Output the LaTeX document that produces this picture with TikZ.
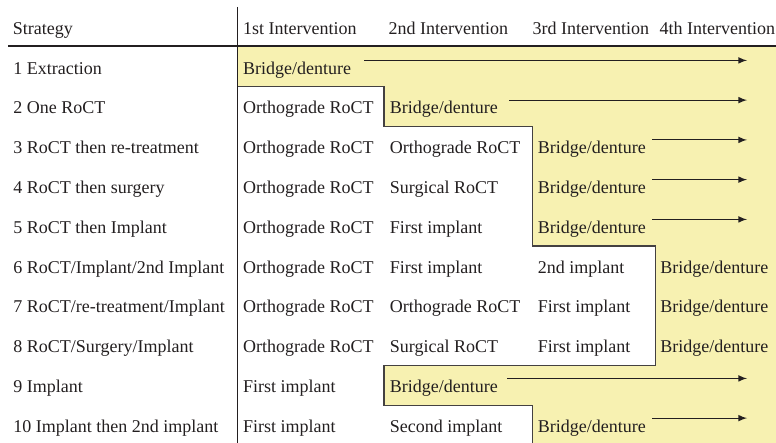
\documentclass[tikz,border=0pt]{standalone}
\usepackage{fontspec}
\setmainfont{Liberation Serif}
\usepackage{tikz}
\usetikzlibrary{arrows,positioning}
\pgfdeclarelayer{background layer}
\pgfsetlayers{background layer,main}
\definecolor{bkg}{RGB}{247,241,177}
\definecolor{ink}{RGB}{35,31,32}

\begin{document}
\begin{tikzpicture}[x=0.5pt,y=-0.5pt]
\tikzstyle{cell}=[anchor=base west,inner sep=0pt,text=ink,font=\fontsize{9}{11}\selectfont]
\tikzstyle{arrow}=[ink,line width=0.5pt,->,>=latex]
\tikzstyle{stairs}=[draw=ink!85,line width=0.7pt]
\tikzstyle{rule}=[ink,line width=1pt]
\useasboundingbox (0,0) rectangle (776,443);
% header
\node [cell] at (12.5,35) (h0) {Strategy};
\node [cell] at (242.7,35) (h1) {1st Intervention};
\node [cell] at (388.3,35) (h2) {2nd Intervention};
\node [cell] at (532.3,35) (h3) {3rd Intervention};
\node [cell] at (659.3,35) (h4) {4th Intervention};
\draw [rule] (8,46.5) -- (776,46.5);
\draw [rule,line width=0.8pt] (237.5,7) -- (237.5,443);
% strategies
\node [cell] at (13,74.3) (s1) {1 Extraction};
\node [cell] at (13,114) (s2) {2 One RoCT};
\node [cell] at (13,153.8) (s3) {3 RoCT then re-treatment};
\node [cell] at (13,193.5) (s4) {4 RoCT then surgery};
\node [cell] at (13,233.3) (s5) {5 RoCT then Implant};
\node [cell] at (13,273) (s6) {6 RoCT/Implant/2nd Implant};
\node [cell] at (13,312.8) (s7) {7 RoCT/re-treatment/Implant};
\node [cell] at (13,352.5) (s8) {8 RoCT/Surgery/Implant};
\node [cell] at (13,392.3) (s9) {9 Implant};
\node [cell] at (13,432) (s10) {10 Implant then 2nd implant};
% 1st intervention
\node [cell] at (242.7,74.3) (a1) {Bridge/denture};
\node [cell] at (242.7,114) (a2) {Orthograde RoCT};
\node [cell] at (242.7,153.8) (a3) {Orthograde RoCT};
\node [cell] at (242.7,193.5) (a4) {Orthograde RoCT};
\node [cell] at (242.7,233.3) (a5) {Orthograde RoCT};
\node [cell] at (242.7,273) (a6) {Orthograde RoCT};
\node [cell] at (242.7,312.8) (a7) {Orthograde RoCT};
\node [cell] at (242.7,352.5) (a8) {Orthograde RoCT};
\node [cell] at (242.7,392.3) (a9) {First implant};
\node [cell] at (242.7,432) (a10) {First implant};
% 2nd intervention
\node [cell] at (389.5,114) (b2) {Bridge/denture};
\node [cell] at (389.5,153.8) (b3) {Orthograde RoCT};
\node [cell] at (389.5,193.5) (b4) {Surgical RoCT};
\node [cell] at (389.5,233.3) (b5) {First implant};
\node [cell] at (389.5,273) (b6) {First implant};
\node [cell] at (389.5,312.8) (b7) {Orthograde RoCT};
\node [cell] at (389.5,352.5) (b8) {Surgical RoCT};
\node [cell] at (389.5,392.3) (b9) {Bridge/denture};
\node [cell] at (389.5,432) (b10) {Second implant};
% 3rd intervention
\node [cell] at (537.5,153.8) (c3) {Bridge/denture};
\node [cell] at (537.5,193.5) (c4) {Bridge/denture};
\node [cell] at (537.5,233.3) (c5) {Bridge/denture};
\node [cell] at (537.5,273) (c6) {2nd implant};
\node [cell] at (537.5,312.8) (c7) {First implant};
\node [cell] at (537.5,352.5) (c8) {First implant};
\node [cell] at (537.5,432) (c10) {Bridge/denture};
% 4th intervention
\node [cell] at (660,273) (d6) {Bridge/denture};
\node [cell] at (660,312.8) (d7) {Bridge/denture};
\node [cell] at (660,352.5) (d8) {Bridge/denture};
% arrows up to the right
\coordinate (tip) at (747,0);
\draw [arrow] ([xshift=6.5pt,yshift=0.5pt]a1.north east) -- ([yshift=0.5pt]a1.north east -| tip);
\draw [arrow] ([xshift=5.5pt,yshift=0.5pt]b2.north east) -- ([yshift=0.5pt]b2.north east -| tip);
\draw [arrow] ([xshift=3pt,yshift=0.5pt]c3.north east) -- ([yshift=0.5pt]c3.north east -| tip);
\draw [arrow] ([xshift=3pt,yshift=0.5pt]c4.north east) -- ([yshift=0.5pt]c4.north east -| tip);
\draw [arrow] ([xshift=3pt,yshift=0.5pt]c5.north east) -- ([yshift=0.5pt]c5.north east -| tip);
\draw [arrow] ([xshift=4.5pt,yshift=0.5pt]b9.north east) -- ([yshift=0.5pt]b9.north east -| tip);
\draw [arrow] ([xshift=3pt,yshift=0.5pt]c10.north east) -- ([yshift=0.5pt]c10.north east -| tip);
% yellow staircase
\begin{pgfonlayer}{background layer}
\fill [bkg] (237.5,46.5) -- (776,46.5) -- (776,443) -- (532.5,443) -- (532.5,405.5)
  -- (384,405.5) -- (384,365.5) -- (655.5,365.5) -- (655.5,246) -- (532.5,246)
  -- (532.5,126.5) -- (384,126.5) -- (384,86.5) -- (237.5,86.5) -- cycle;
\draw [stairs] (237.5,86.5) -- (384,86.5) -- (384,126.5) -- (532.5,126.5) -- (532.5,246)
  -- (655.5,246) -- (655.5,365.5) -- (384,365.5) -- (384,405.5) -- (532.5,405.5) -- (532.5,443);
\end{pgfonlayer}
\end{tikzpicture}
\end{document}
